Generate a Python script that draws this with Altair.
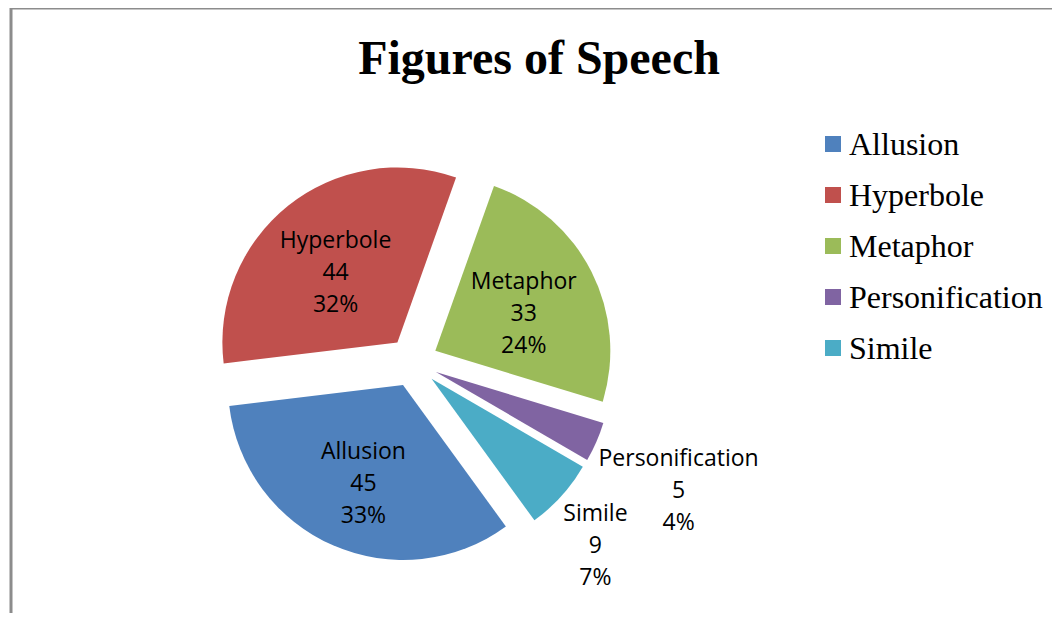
import altair as alt
import pandas as pd

# ---- data ----
categories = ["Allusion", "Hyperbole", "Metaphor", "Personification", "Simile"]
values = [45, 44, 33, 5, 9]
colors = ["#4F81BD", "#C0504D", "#9BBB59", "#8064A2", "#4BACC6"]

df = pd.DataFrame({"category": categories, "value": values, "order": list(range(len(categories)))})
leg_df = pd.DataFrame({"category": categories, "idx": list(range(len(categories)))})

# ---- layout constants (chart coordinates) ----
W, H = 1044, 605
CX, CY = 405, 354
R = 175
EXPLODE = 25
START_DEG = 144
R_IN = 124
IN_DY = 8
R_EDGE = 203
LINE_H = 32
CHAR_HALF = 5.3
LEG_SYM_CX = 825
LEG_TXT_X = 841
LEG_Y0 = 136
LEG_STEP = 51

color_scale = alt.Scale(domain=categories, range=colors)

base = (
    alt.Chart(df)
    .transform_joinaggregate(total="sum(value)")
    .transform_window(cum="sum(value)", sort=[alt.SortField("order")], frame=[None, 0])
    .transform_calculate(
        frac="datum.value / datum.total",
        a0=f"{START_DEG}*PI/180 + 2*PI*(datum.cum - datum.value)/datum.total",
        a1=f"{START_DEG}*PI/180 + 2*PI*datum.cum/datum.total",
    )
    .transform_calculate(amid="(datum.a0 + datum.a1)/2")
    .transform_calculate(
        cx=f"{CX} + {EXPLODE}*sin(datum.amid)",
        cy=f"{CY} - {EXPLODE}*cos(datum.amid)",
        outside="datum.frac < 0.1",
        label="datum.category + '\\n' + datum.value + '\\n' + format(datum.frac, '.0%')",
    )
    .transform_calculate(
        lx=(
            f"datum.outside ? {CX} + {R_EDGE}*sin(datum.amid) + length(datum.category)*{CHAR_HALF}*(sin(datum.amid) >= 0 ? 1 : -1)"
            f" : {CX} + {R_IN}*sin(datum.amid)"
        ),
        ly=(
            f"datum.outside ? {CY} - {R_EDGE}*cos(datum.amid) + {1.5 * LINE_H}*(cos(datum.amid) <= 0 ? 1 : -1)"
            f" : {CY} - {R_IN}*cos(datum.amid) + {IN_DY}"
        ),
    )
)

arcs = base.mark_arc(radius=R, stroke=None).encode(
    x=alt.X("cx:Q", scale=None, axis=None),
    y=alt.Y("cy:Q", scale=None, axis=None),
    theta=alt.Theta("a0:Q", scale=None, stack=False),
    theta2="a1:Q",
    color=alt.Color("category:N", scale=color_scale, legend=None),
)

labels = base.mark_text(
    font="Open Sans", fontSize=23, color="black", lineBreak="\n", lineHeight=LINE_H,
    align="center", baseline="middle", dy=-LINE_H,
).encode(
    x=alt.X("lx:Q", scale=None, axis=None),
    y=alt.Y("ly:Q", scale=None, axis=None),
    text="label:N",
)

# ---- legend (drawn from the categories list) ----
leg = alt.Chart(leg_df).transform_calculate(ry=f"{LEG_Y0} + datum.idx*{LEG_STEP}")
leg_sym = leg.mark_square(size=256, opacity=1, strokeWidth=0).encode(
    x=alt.value(LEG_SYM_CX),
    y=alt.Y("ry:Q", scale=None, axis=None),
    color=alt.Color("category:N", scale=color_scale, legend=None),
)
leg_txt = leg.mark_text(
    font="Liberation Serif", fontSize=32, color="black", align="left", baseline="middle", dy=1
).encode(
    x=alt.value(LEG_TXT_X),
    y=alt.Y("ry:Q", scale=None, axis=None),
    text="category:N",
)

frame_df = pd.DataFrame({"k": [0]})
top_rule = alt.Chart(frame_df).mark_rule(color="#8c8c8c", strokeWidth=3).encode(
    x=alt.value(2), x2=alt.value(W), y=alt.value(0)
)
left_rule = alt.Chart(frame_df).mark_rule(color="#8c8c8c", strokeWidth=3).encode(
    x=alt.value(3), y=alt.value(0), y2=alt.value(H)
)

chart = (
    alt.layer(top_rule, left_rule, arcs, labels, leg_sym, leg_txt)
    .properties(
        width=W,
        height=H,
        padding=0,
        autosize=alt.AutoSizeParams(type="none"),
        title=alt.TitleParams(
            "Figures of Speech",
            font="Liberation Serif",
            fontSize=48,
            fontWeight="bold",
            color="black",
            anchor="middle",
            frame="group",
            baseline="alphabetic",
            offset=-115,
            dx=9,
        ),
    )
    .configure_view(strokeWidth=0)
)

chart.save("out.html", embed_options={"renderer": "svg", "actions": False})
